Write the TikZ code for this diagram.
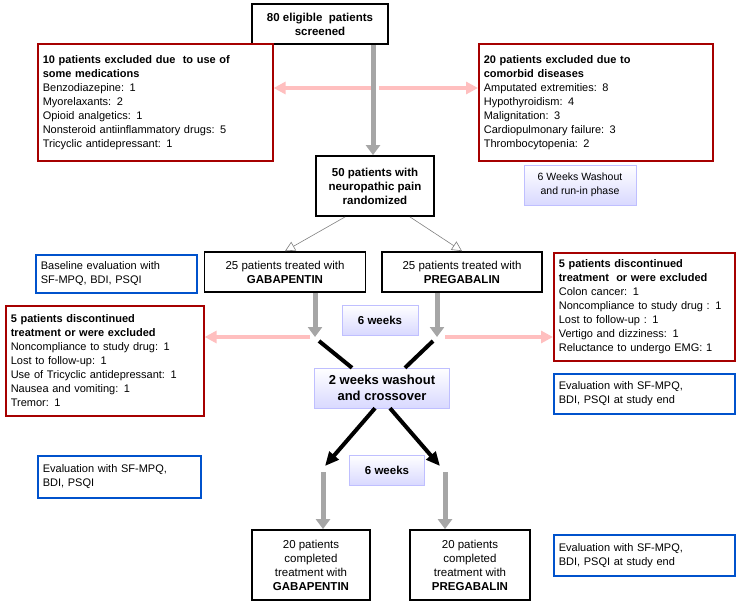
\documentclass[tikz,border=0pt]{standalone}
\usepackage{fontspec}
\setmainfont{Liberation Sans}
\usetikzlibrary{arrows.meta}
\tikzset{
  blk/.style={draw, line width=1.8pt, align=center, inner sep=3pt, font=\fontsize{11.5}{14}\selectfont},
  redbox/.style={draw=red!65!black, line width=1.6pt, align=left, inner sep=5pt, anchor=north west, font=\fontsize{11}{14}\selectfont},
  bluebox/.style={draw=blue!60!cyan!80!black, line width=1.6pt, align=left, inner sep=5pt, anchor=north west, font=\fontsize{11}{14}\selectfont},
  soft/.style={draw=blue!25, top color=white, bottom color=blue!15, align=center, inner sep=3pt, font=\bfseries\fontsize{11.5}{14}\selectfont},
  gray arrow/.style={draw=gray!70, line width=5pt, -{Triangle[length=10pt,width=14pt]}},
  pink arrow/.style={draw=red!25, line width=4pt, -{Triangle[length=12pt,width=12pt]}},
  blk arrow/.style={draw=black, line width=4pt, -{Triangle[length=14pt,width=12pt]}},
  white arrow/.style={draw=gray, line width=0.6pt, -{Triangle[open,length=10pt,width=10pt]}}
}
\begin{document}
\begin{tikzpicture}[x=1pt,y=-1pt]
\useasboundingbox (0,0) rectangle (746,608);
% boxes
\node[blk, minimum width=136pt, minimum height=40pt] (screen) at (320,24) {\textbf{80 eligible\ \ patients}\\\textbf{screened}};
\node[redbox, text width=225pt, minimum height=117pt] (excl1) at (37,43) {\textbf{10 patients excluded due\ \ to use of}\\\textbf{some medications}\\Benzodiazepine: 1\\Myorelaxants: 2\\Opioid analgetics: 1\\Nonsteroid antiinflammatory drugs: 5\\Tricyclic antidepressant: 1};
\node[redbox, text width=224pt, minimum height=117pt] (excl2) at (478,43) {\textbf{20 patients excluded due to}\\\textbf{comorbid diseases}\\Amputated extremities: 8\\Hypothyroidism: 4\\Malignitation: 3\\Cardiopulmonary failure: 3\\Thrombocytopenia: 2};
\node[blk, minimum width=118pt, minimum height=60pt] (rand) at (375,186) {\textbf{50 patients with}\\\textbf{neuropathic pain}\\\textbf{randomized}};
\node[soft, font=\fontsize{10.5}{14}\selectfont, minimum width=112pt, minimum height=40pt] (washin) at (580,185) {6 Weeks Washout\\and run-in phase};
\node[bluebox, text width=151pt, minimum height=38pt] (base) at (35,254) {Baseline evaluation with\\SF-MPQ, BDI, PSQI};
\node[blk, minimum width=161pt, minimum height=40pt] (gaba) at (285,272) {25 patients treated with\\\textbf{GABAPENTIN}};
\node[blk, minimum width=160pt, minimum height=40pt] (prega) at (462,272) {25 patients treated with\\\textbf{PREGABALIN}};
\node[redbox, text width=171pt, minimum height=108pt] (disc2) at (553,252) {\textbf{5 patients discontinued}\\\textbf{treatment\ \ or were excluded}\\Colon cancer: 1\\Noncompliance to study drug : 1\\Lost to follow-up : 1\\Vertigo and dizziness: 1\\Reluctance to undergo EMG: 1};
\node[redbox, text width=188pt, minimum height=110pt] (disc1) at (5,305) {\textbf{5 patients discontinued}\\\textbf{treatment or were excluded}\\Noncompliance to study drug: 1\\Lost to follow-up: 1\\Use of Tricyclic antidepressant: 1\\Nausea and vomiting: 1\\Tremor: 1};
\node[soft, minimum width=76pt, minimum height=30pt] (six1) at (380,320) {6 weeks};
\node[soft, font=\bfseries\fontsize{13}{16}\selectfont, minimum width=135pt, minimum height=40pt] (cross) at (382,388) {2 weeks washout\\and crossover};
\node[bluebox, text width=171pt, minimum height=40pt] (evalA) at (553,373) {Evaluation with SF-MPQ,\\BDI, PSQI at study end};
\node[soft, minimum width=75pt, minimum height=30pt] (six2) at (387,470) {6 weeks};
\node[bluebox, text width=153pt, minimum height=42pt] (evalB) at (37,455) {Evaluation with SF-MPQ,\\BDI, PSQI};
\node[blk, minimum width=118pt, minimum height=70pt] (endG) at (311,565) {20 patients\\completed\\treatment with\\\textbf{GABAPENTIN}};
\node[blk, minimum width=120pt, minimum height=70pt] (endP) at (470,565) {20 patients\\completed\\treatment with\\\textbf{PREGABALIN}};
\node[bluebox, text width=171pt, minimum height=41pt] (evalC) at (553,534) {Evaluation with SF-MPQ,\\BDI, PSQI at study end};
% arrow points
\coordinate (mid1) at (373,88);
\coordinate (gdown) at (315,337);
\coordinate (pdown) at (437,337);
\coordinate (gsplit) at (325,466);
\coordinate (psplit) at (440,466);
% connectors
\draw[pink arrow] (mid1) ++(-2,0) -- (excl1.east |- mid1);
\draw[pink arrow] (mid1) ++(6,0) -- (excl2.west |- mid1);
\draw[gray arrow] (screen.south -| mid1) -- (rand.north -| mid1);
\draw[white arrow] (rand.south west) ++(30,0) -- (gaba.north);
\draw[white arrow] (rand.south east) ++(-25,0) -- (prega.north);
\draw[pink arrow] (gdown) ++(-5,0) -- (disc1.east |- gdown);
\draw[pink arrow] (pdown) ++(8,0) -- (disc2.west |- pdown);
\draw[gray arrow] (gaba.south -| gdown) -- (gdown);
\draw[gray arrow] (prega.south -| pdown) -- (pdown);
\draw[blk arrow, -] (gdown) ++(4,4) -- (cross.north west -| 352,0);
\draw[blk arrow, -] (pdown) ++(-4,4) -- (cross.north east -| 405,0);
\draw[blk arrow] (cross.south -| 375,0) -- (gsplit);
\draw[blk arrow] (cross.south -| 390,0) -- (psplit);
\draw[gray arrow] (gsplit) ++(-2,6) -- (endG.north -| 323,0);
\draw[gray arrow] (psplit) ++(5,6) -- (endP.north -| 445,0);
\end{tikzpicture}
\end{document}
